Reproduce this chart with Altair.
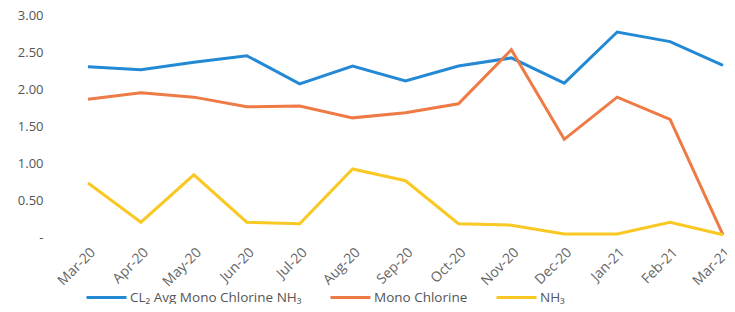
import altair as alt
import pandas as pd

months = ["Mar-20", "Apr-20", "May-20", "Jun-20", "Jul-20", "Aug-20", "Sep-20",
          "Oct-20", "Nov-20", "Dec-20", "Jan-21", "Feb-21", "Mar-21"]
series_names = ["CL\u2082 Avg Mono Chlorine NH\u2083", "Mono Chlorine", "NH\u2083"]
cl2_avg = [2.30, 2.26, 2.36, 2.45, 2.07, 2.31, 2.11, 2.31, 2.42, 2.08, 2.77, 2.64, 2.32]
mono_chlorine = [1.86, 1.95, 1.89, 1.76, 1.77, 1.61, 1.68, 1.80, 2.53, 1.32, 1.89, 1.59, 0.03]
nh3 = [0.73, 0.20, 0.84, 0.20, 0.18, 0.92, 0.76, 0.18, 0.16, 0.04, 0.04, 0.20, 0.03]
colors = ["#2389D4", "#EE7A45", "#F9C823"]

rows = []
for name, vals in zip(series_names, [cl2_avg, mono_chlorine, nh3]):
    for m, v in zip(months, vals):
        rows.append({"month": m, "value": v, "series": name})
df = pd.DataFrame(rows)

FONT = "Open Sans"

chart = alt.Chart(df).mark_line(strokeWidth=3).encode(
    x=alt.X("month:N", sort=months,
            scale=alt.Scale(type="point", range=[26, 661], padding=0),
            axis=alt.Axis(title=None, labelAngle=-45, domain=False, ticks=False,
                          labelPadding=8, labelFontSize=14, labelColor="#666666",
                          labelFont=FONT, grid=False, labelOverlap=False)),
    y=alt.Y("value:Q", scale=alt.Scale(domain=[0, 3]),
            axis=alt.Axis(title=None, values=[0, 0.5, 1, 1.5, 2, 2.5, 3],
                          labelExpr="datum.value == 0 ? '-' : format(datum.value, '.2f')",
                          domain=False, ticks=False, grid=False, labelPadding=19,
                          labelOverlap=False,
                          labelFontSize=13, labelColor="#555555", labelFont=FONT)),
    color=alt.Color("series:N",
                    scale=alt.Scale(domain=series_names, range=colors),
                    legend=alt.Legend(title=None, orient="none", direction="horizontal",
                                      legendX=23, legendY=261,
                                      symbolType="stroke", symbolSize=1600,
                                      symbolStrokeWidth=3, labelFontSize=13.5,
                                      labelLimit=400,
                                      labelColor="#555555", labelFont=FONT,
                                      columnPadding=22, labelOffset=2, padding=0)),
).properties(
    width=665, height=222,
    autosize=alt.AutoSizeParams(type="none"),
    padding={"left": 54, "top": 7, "right": 0, "bottom": 67},
).configure_view(stroke=None)

chart.save("out.html", embed_options={"renderer": "svg", "actions": False})
